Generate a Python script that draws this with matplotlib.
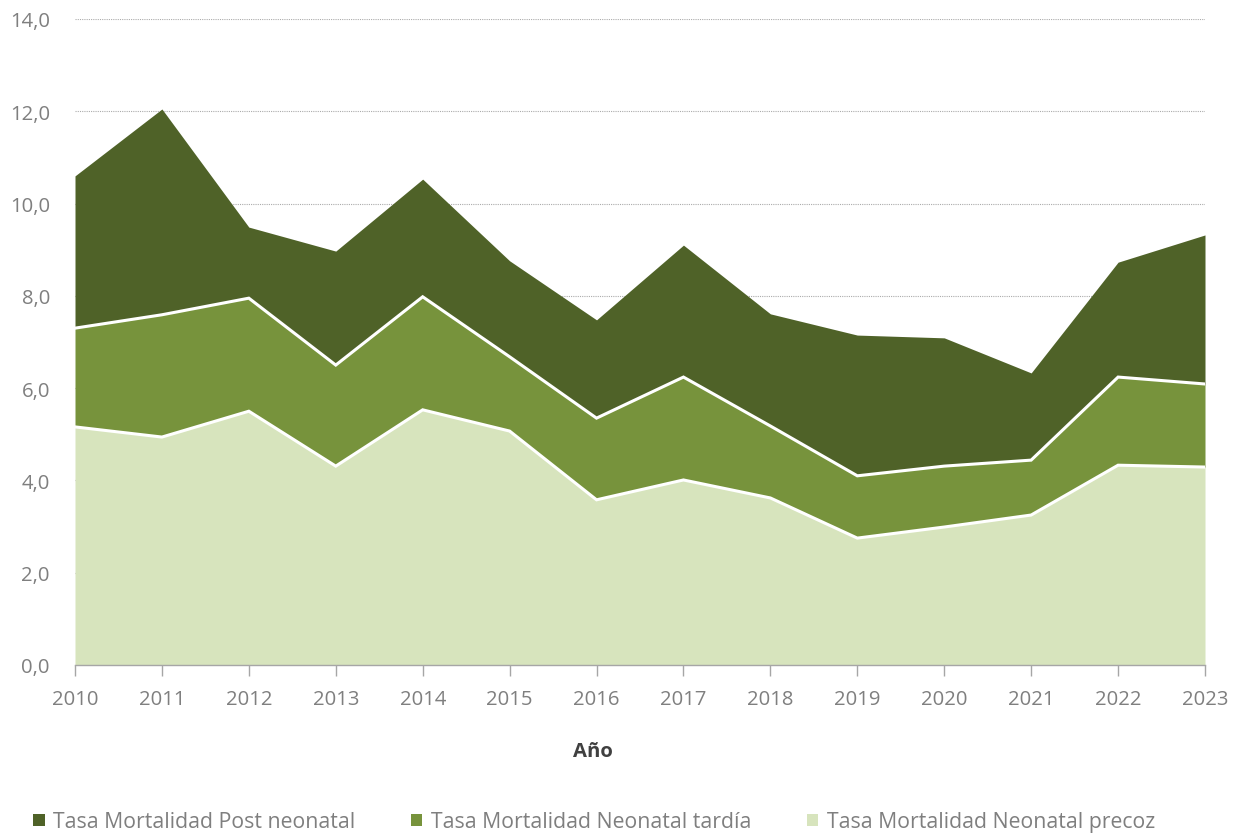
import matplotlib
matplotlib.use("Agg")
import matplotlib.pyplot as plt
from matplotlib.patches import Patch

plt.rcParams['font.family'] = ['Open Sans', 'DejaVu Sans']

years = [2010, 2011, 2012, 2013, 2014, 2015, 2016, 2017, 2018, 2019, 2020, 2021, 2022, 2023]
precoz = [5.16, 4.94, 5.50, 4.31, 5.53, 5.07, 3.58, 4.01, 3.62, 2.75, 2.99, 3.25, 4.33, 4.29]
tardia = [2.14, 2.65, 2.45, 2.19, 2.45, 1.61, 1.77, 2.23, 1.56, 1.35, 1.32, 1.19, 1.91, 1.80]
post = [3.30, 4.46, 1.54, 2.47, 2.55, 2.08, 2.13, 2.86, 2.43, 3.05, 2.78, 1.89, 2.49, 3.23]

labels = ["Tasa Mortalidad Post neonatal", "Tasa Mortalidad Neonatal tardía",
          "Tasa Mortalidad Neonatal precoz"]
colors = {"post": "#4F6228", "tardia": "#77933C", "precoz": "#D7E4BD"}
yticks = [0, 2, 4, 6, 8, 10, 12, 14]

fig = plt.figure(figsize=(12.4, 8.37), dpi=100)
ax = fig.add_axes([75 / 1240, 1 - 666 / 837, 1130 / 1240, 646 / 837])

lvl1 = precoz
lvl2 = [a + b for a, b in zip(precoz, tardia)]
lvl3 = [a + b for a, b in zip(lvl2, post)]

ax.fill_between(years, 0, lvl1, color=colors["precoz"], lw=0, zorder=2)
ax.fill_between(years, lvl1, lvl2, color=colors["tardia"], lw=0, zorder=2)
ax.fill_between(years, lvl2, lvl3, color=colors["post"], lw=0, zorder=2)
ax.plot(years, lvl1, color="white", lw=2.2, zorder=3, solid_joinstyle="miter")
ax.plot(years, lvl2, color="white", lw=2.2, zorder=3, solid_joinstyle="miter")

ax.set_xlim(2010, 2023)
ax.set_ylim(0, 14)
ax.set_yticks(yticks)
ax.set_yticklabels([f"{v:.1f}".replace(".", ",") for v in yticks])
ax.set_xticks(years)
ax.set_xticklabels([str(y) for y in years])

ax.grid(axis="y", color="#ABABAB", linestyle=(0, (1, 1)), lw=0.8, zorder=1)
ax.set_axisbelow(True)

for s in ["left", "right", "top"]:
    ax.spines[s].set_visible(False)
ax.spines["bottom"].set_color("#A6A6A6")
ax.spines["bottom"].set_linewidth(1.0)
ax.spines["bottom"].set_zorder(4)

ax.tick_params(axis="x", direction="out", length=8, width=1, color="#A6A6A6",
               labelsize=14.6, labelcolor="#7F7F7F", pad=9)
ax.tick_params(axis="y", length=0, labelsize=14.6, labelcolor="#7F7F7F", pad=18)

ax.set_xlabel("Año", fontsize=14.6, fontweight="bold", color="#404040", labelpad=28)
ax.xaxis.set_label_coords((593 - 75) / 1130, -0.118)

handles = [Patch(facecolor=colors["post"]), Patch(facecolor=colors["tardia"]),
           Patch(facecolor=colors["precoz"])]
leg = fig.legend(handles, labels, loc="center", bbox_to_anchor=(594 / 1240, 1 - 823 / 837),
                 ncol=3, frameon=False, fontsize=15.3, handlelength=0.55, handleheight=0.55,
                 handletextpad=0.4, columnspacing=2.6, labelcolor="#7F7F7F")

fig.savefig("out.png", dpi=100)
